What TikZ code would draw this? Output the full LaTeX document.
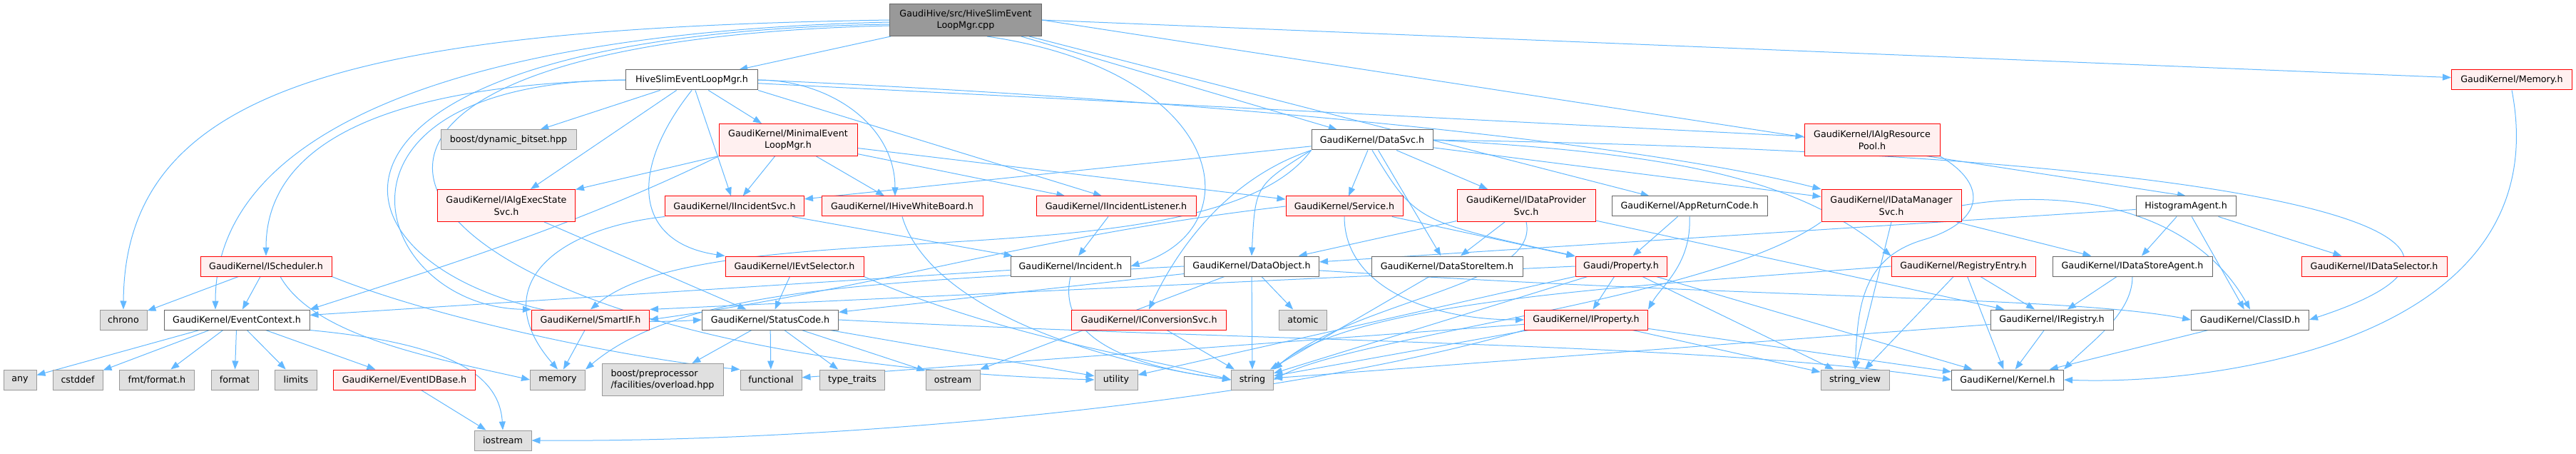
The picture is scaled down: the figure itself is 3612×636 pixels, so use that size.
\documentclass[tikz,border=0pt]{standalone}
\usepackage{fontspec}
\setmainfont{DejaVu Sans}
\usepackage{tikz}
\usetikzlibrary{arrows.meta, backgrounds}
\definecolor{dxedge}{HTML}{63B8FF}
\definecolor{dxred}{HTML}{FF0000}
\definecolor{dxredfill}{HTML}{FFF0F0}
\definecolor{dxframe}{HTML}{666666}
\definecolor{dxsysframe}{HTML}{999999}
\definecolor{dxsysfill}{HTML}{E0E0E0}
\definecolor{dxsrcfill}{HTML}{999999}

\begin{document}
\begin{tikzpicture}[
  x=1pt, y=-1pt,
  hdr/.style={rectangle, draw=#1, line width=1pt, minimum height=28pt, inner sep=0pt, align=center, font=\fontsize{12.7}{16.7}\selectfont},
  plainhdr/.style={hdr=dxframe, fill=white},
  trunchdr/.style={hdr=dxred, fill=dxredfill},
  syshdr/.style={hdr=dxsysframe, fill=dxsysfill},
  srchdr/.style={hdr=dxframe, fill=dxsrcfill},
  twoline/.style={minimum height=45pt},
  incl/.style={-{Triangle[length=12pt, width=9pt]}, draw=dxedge, line width=1pt}
]
  \useasboundingbox (0,0) rectangle (3612,636);

  % Source file and its header
  \node[srchdr, twoline, minimum width=213pt] (root) at (1354,28) {GaudiHive/src/HiveSlimEvent\\LoopMgr.cpp};
  \node[plainhdr, minimum width=185pt] (hive) at (970,112) {HiveSlimEventLoopMgr.h};
  \node[trunchdr, minimum width=169pt] (memoryh) at (3522,112) {GaudiKernel/Memory.h};

  % Third row
  \node[syshdr, minimum width=190pt] (bitset) at (713,196) {boost/dynamic\_bitset.hpp};
  \node[trunchdr, twoline, minimum width=194pt] (minevt) at (1105,196) {GaudiKernel/MinimalEvent\\LoopMgr.h};
  \node[plainhdr, minimum width=170pt] (datasvc) at (1924,196) {GaudiKernel/DataSvc.h};
  \node[trunchdr, twoline, minimum width=190pt] (algres) at (2625,196) {GaudiKernel/IAlgResource\\Pool.h};

  % Interfaces row
  \node[trunchdr, twoline, minimum width=193pt] (algexec) at (710,288) {GaudiKernel/IAlgExecState\\Svc.h};
  \node[trunchdr, minimum width=195pt] (incsvc) at (1030,289) {GaudiKernel/IIncidentSvc.h};
  \node[trunchdr, minimum width=226pt] (hivewb) at (1265,289) {GaudiKernel/IHiveWhiteBoard.h};
  \node[trunchdr, minimum width=224pt] (inclist) at (1565,289) {GaudiKernel/IIncidentListener.h};
  \node[trunchdr, minimum width=164pt] (service) at (1885,289) {GaudiKernel/Service.h};
  \node[trunchdr, twoline, minimum width=194pt] (dataprov) at (2140,288) {GaudiKernel/IDataProvider\\Svc.h};
  \node[plainhdr, minimum width=218pt] (appret) at (2369,289) {GaudiKernel/AppReturnCode.h};
  \node[trunchdr, twoline, minimum width=196pt] (datamgr) at (2652,288) {GaudiKernel/IDataManager\\Svc.h};
  \node[plainhdr, minimum width=140pt] (histagent) at (3065,289) {HistogramAgent.h};

  % Middle row
  \node[trunchdr, minimum width=184pt] (sched) at (373,373) {GaudiKernel/IScheduler.h};
  \node[trunchdr, minimum width=194pt] (evtsel) at (1114,373) {GaudiKernel/IEvtSelector.h};
  \node[plainhdr, minimum width=168pt] (incident) at (1501,373) {GaudiKernel/Incident.h};
  \node[plainhdr, minimum width=189pt] (dataobj) at (1755,373) {GaudiKernel/DataObject.h};
  \node[plainhdr, minimum width=212pt] (storeitem) at (2029,373) {GaudiKernel/DataStoreItem.h};
  \node[trunchdr, minimum width=128pt] (property) at (2273,373) {Gaudi/Property.h};
  \node[trunchdr, minimum width=202pt] (regentry) at (2753,373) {GaudiKernel/RegistryEntry.h};
  \node[plainhdr, minimum width=224pt] (storeagent) at (2990,373) {GaudiKernel/IDataStoreAgent.h};
  \node[trunchdr, minimum width=204pt] (datasel) at (3329,373) {GaudiKernel/IDataSelector.h};

  % Lower row
  \node[syshdr, minimum width=66pt] (chrono) at (173,448) {chrono};
  \node[plainhdr, minimum width=204pt] (evtctx) at (332,448) {GaudiKernel/EventContext.h};
  \node[trunchdr, minimum width=165pt] (smartif) at (828,448) {GaudiKernel/SmartIF.h};
  \node[plainhdr, minimum width=191pt] (statuscode) at (1080,448) {GaudiKernel/StatusCode.h};
  \node[trunchdr, minimum width=217pt] (convsvc) at (1611,448) {GaudiKernel/IConversionSvc.h};
  \node[syshdr, minimum width=67pt] (atomic) at (1827,448) {atomic};
  \node[trunchdr, minimum width=173pt] (iprop) at (2224,448) {GaudiKernel/IProperty.h};
  \node[plainhdr, minimum width=172pt] (iregistry) at (2877,448) {GaudiKernel/IRegistry.h};
  \node[plainhdr, minimum width=165pt] (classid) at (3155,448) {GaudiKernel/ClassID.h};

  % Bottom row
  \node[syshdr, minimum width=46pt] (any) at (28,532) {any};
  \node[syshdr, minimum width=70pt] (cstddef) at (109,532) {cstddef};
  \node[syshdr, minimum width=105pt] (fmtfmt) at (220,532) {fmt/format.h};
  \node[syshdr, minimum width=66pt] (format) at (329,532) {format};
  \node[syshdr, minimum width=59pt] (limits) at (415,532) {limits};
  \node[trunchdr, minimum width=199pt] (evtidbase) at (567,532) {GaudiKernel/EventIDBase.h};
  \node[syshdr, minimum width=77pt] (memory) at (782,532) {memory};
  \node[syshdr, twoline, minimum width=170pt, align=left] (boostpp) at (929,532) {boost/preprocessor\\/facilities/overload.hpp};
  \node[syshdr, minimum width=86pt] (functional) at (1081,532) {functional};
  \node[syshdr, minimum width=91pt] (typetraits) at (1195,532) {type\_traits};
  \node[syshdr, minimum width=76pt] (ostream) at (1336,532) {ostream};
  \node[syshdr, minimum width=60pt] (utility) at (1565,532) {utility};
  \node[syshdr, minimum width=59pt] (string) at (1756,532) {string};
  \node[syshdr, minimum width=96pt] (strview) at (2601,532) {string\_view};
  \node[plainhdr, minimum width=157pt] (kernel) at (2815,532) {GaudiKernel/Kernel.h};
  \node[syshdr, minimum width=80pt] (iostream) at (705,617) {iostream};

  \begin{scope}[on background layer]
    % Source file includes
    \draw[incl] (root) -- (hive);
    \draw[incl] (root.west) .. controls (500,40) and (175,120) .. (chrono.north);
    \draw[incl] ([yshift=-3pt]root.west) .. controls (650,45) and (302,180) .. ([xshift=-30pt]evtctx.north);
    \draw[incl] ([yshift=-6pt]root.west) .. controls (250,50) and (460,480) .. (statuscode.west);
    \draw[incl] ([yshift=-8pt]root.west) .. controls (230,60) and (500,500) .. (utility.west);
    \draw[incl] (root) -- (datasvc);
    \draw[incl] (root) -- (appret);
    \draw[incl] (root.east) -- (histagent.north);
    \draw[incl] (root.east) -- (memoryh);
    \draw[incl] ([xshift=30pt]root.south) .. controls (1720,100) and (1760,320) .. (incident.east);

    % HiveSlimEventLoopMgr.h
    \draw[incl] (hive) -- (bitset);
    \draw[incl] (hive) -- (algexec);
    \draw[incl] (hive) -- (incsvc);
    \draw[incl] (hive) -- (minevt);
    \draw[incl] (hive.south) .. controls (880,240) and (890,340) .. (evtsel.north west);
    \draw[incl] (hive.west) .. controls (500,120) and (373,220) .. (sched.north);
    \draw[incl] (hive.west) .. controls (420,115) and (520,430) .. (smartif.north west);
    \draw[incl] (hive.east) .. controls (1163,112) and (1255,175) .. ([xshift=-10pt]hivewb.north);
    \draw[incl] (hive.south east) -- ([xshift=-20pt]inclist.north);
    \draw[incl] (hive) -- (algres);
    \draw[incl] (hive.east) .. controls (1700,140) and (2300,200) .. (datamgr.north west);

    % MinimalEventLoopMgr.h
    \draw[incl] (minevt) -- (algexec);
    \draw[incl] (minevt) -- (incsvc);
    \draw[incl] (minevt) -- (hivewb);
    \draw[incl] (minevt) -- (inclist);
    \draw[incl] (minevt) -- (service);
    \draw[incl] (minevt.south west) .. controls (800,320) and (600,380) .. (evtctx.north east);
    \draw[incl] (algexec) -- (statuscode);

    % IScheduler.h and EventContext.h
    \draw[incl] (sched) -- (chrono);
    \draw[incl] (sched) -- (evtctx);
    \draw[incl] ([xshift=20pt]sched.south) .. controls (440,470) and (600,500) .. (memory.west);
    \draw[incl] (sched.south east) .. controls (620,450) and (900,505) .. (functional.north west);
    \draw[incl] (evtctx) -- (any);
    \draw[incl] (evtctx) -- (cstddef);
    \draw[incl] (evtctx) -- (fmtfmt);
    \draw[incl] (evtctx) -- (format);
    \draw[incl] (evtctx) -- (limits);
    \draw[incl] (evtctx) -- (evtidbase);
    \draw[incl] (evtctx.south east) .. controls (620,480) and (700,520) .. (iostream.north);
    \draw[incl] (evtidbase) -- (iostream);

    % Incidents and selectors
    \draw[incl] (incsvc) -- (incident);
    \draw[incl] (incsvc.south west) .. controls (780,320) and (680,400) .. (memory.north);
    \draw[incl] (inclist) -- (incident);
    \draw[incl] (hivewb.south) .. controls (1300,420) and (1500,500) .. (string.west);
    \draw[incl] (evtsel) -- (statuscode);
    \draw[incl] (evtsel.south east) .. controls (1400,470) and (1600,500) .. (string.west);
    \draw[incl] (incident) -- (evtctx);
    \draw[incl] (incident.south) .. controls (1480,480) and (1600,515) .. (string.west);
    \draw[incl] (smartif) -- (memory);

    % StatusCode.h
    \draw[incl] (statuscode) -- (boostpp);
    \draw[incl] (statuscode) -- (functional);
    \draw[incl] (statuscode) -- (typetraits);
    \draw[incl] (statuscode) -- (ostream);
    \draw[incl] (statuscode) -- (utility);
    \draw[incl] (statuscode.east) .. controls (1800,480) and (2400,480) .. (kernel.west);

    % DataSvc.h
    \draw[incl] (datasvc) -- (incsvc);
    \draw[incl] (datasvc) -- (service);
    \draw[incl] (datasvc) -- (dataprov);
    \draw[incl] (datasvc) -- (storeitem);
    \draw[incl] (datasvc.south west) .. controls (1760,260) .. (dataobj.north);
    \draw[incl] (datasvc.south west) .. controls (1720,250) and (1650,350) .. (convsvc.north);
    \draw[incl] (datasvc) -- (datamgr);
    \draw[incl] (datasvc.east) .. controls (2350,215) and (2520,250) .. (regentry.north west);
    \draw[incl] (datasvc.south) .. controls (1985,310) .. (property.north west);
    \draw[incl] (datasvc.south west) .. controls (1700,400) and (1000,290) .. (smartif.north);
    \draw[incl] (datasvc.east) .. controls (3200,215) and (3600,330) .. (classid.east);

    % Service.h, IDataProviderSvc.h, AppReturnCode.h
    \draw[incl] (service.west) .. controls (1450,330) and (1250,400) .. (smartif.east);
    \draw[incl] (service) -- (property);
    \draw[incl] (service.south) .. controls (1885,400) and (2000,448) .. (iprop.west);
    \draw[incl] (dataprov) -- (storeitem);
    \draw[incl] (dataprov) -- (dataobj);
    \draw[incl] (dataprov) -- (iregistry);
    \draw[incl] (dataprov.south) .. controls (2160,400) and (1900,420) .. (string.north east);
    \draw[incl] (appret) -- (property);
    \draw[incl] (appret.south) .. controls (2372,370) and (2330,400) .. (iprop.north east);

    % Data manager side
    \draw[incl] (algres.south east) .. controls (2790,260) and (2780,310) .. (2700,335) .. controls (2610,360) and (2605,430) .. (strview.north);
    \draw[incl] (datamgr) -- (storeagent);
    \draw[incl] (datamgr.east) .. controls (2915,260) and (3080,300) .. (classid.north);
    \draw[incl] (datamgr.south west) .. controls (2400,420) and (1900,470) .. (string.east);
    \draw[incl] (datamgr.south) -- (strview.north);
    \draw[incl] (histagent) -- (storeagent);
    \draw[incl] (histagent) -- (classid);
    \draw[incl] (histagent) -- (datasel);
    \draw[incl] (histagent) -- (dataobj);
    \draw[incl] (memoryh.south) .. controls (3590,480) and (3100,540) .. (kernel.east);

    % DataObject.h
    \draw[incl] (dataobj) .. controls (2500,420) and (2900,415) .. (classid.west);
    \draw[incl] (dataobj) -- (statuscode);
    \draw[incl] (dataobj) -- (atomic);
    \draw[incl] (dataobj.west) .. controls (1250,395) and (960,400) .. (memory.north east);
    \draw[incl] (dataobj) -- (ostream);
    \draw[incl] (dataobj) -- (string);
    \draw[incl] (convsvc) -- (string);
    \draw[incl] (storeitem) -- (string);

    % Properties
    \draw[incl] (property) -- (iprop);
    \draw[incl] (property.west) -- (smartif.north east);
    \draw[incl] (property) -- (string);
    \draw[incl] (property) -- (strview);
    \draw[incl] (property) -- (kernel);
    \draw[incl] (property) -- (utility);
    \draw[incl] (iprop.south west) .. controls (1800,560) and (1200,620) .. (iostream.east);
    \draw[incl] (iprop) -- (functional);
    \draw[incl] (iprop) -- (string);
    \draw[incl] (iprop) -- (strview);
    \draw[incl] (iprop) -- (kernel);

    % Registry
    \draw[incl] (regentry) -- (iregistry);
    \draw[incl] (regentry) -- (kernel);
    \draw[incl] (regentry) -- (strview);
    \draw[incl] (regentry.west) .. controls (2300,400) and (1900,420) .. (string.north east);
    \draw[incl] (iregistry) -- (kernel);
    \draw[incl] (iregistry) -- (string);
    \draw[incl] (storeagent) -- (iregistry);
    \draw[incl] (storeagent.south) .. controls (2990,440) and (2930,480) .. (kernel.north east);
    \draw[incl] (classid) -- (kernel);
  \end{scope}
\end{tikzpicture}
\end{document}
